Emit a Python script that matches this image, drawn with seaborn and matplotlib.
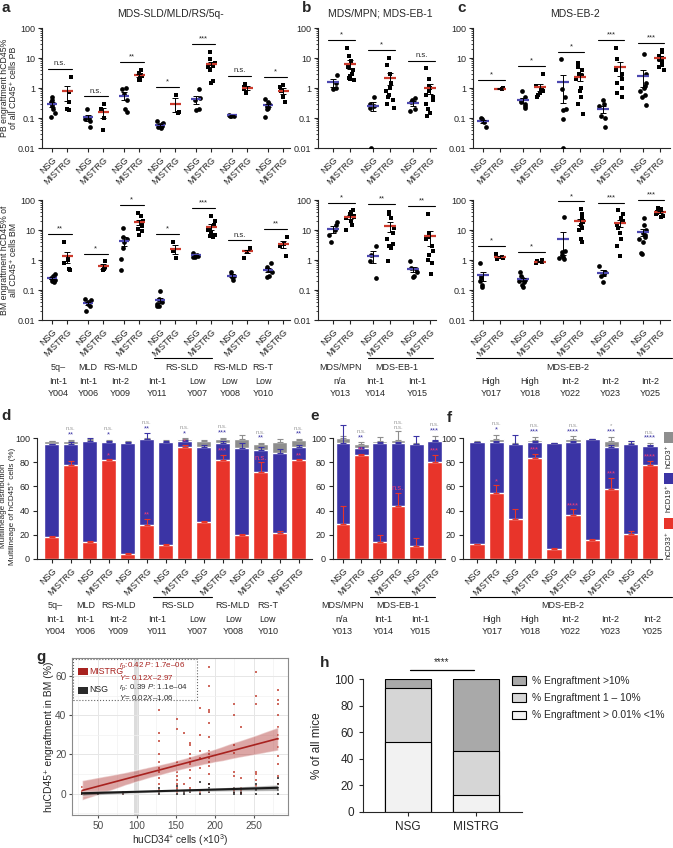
import numpy as np
import pandas as pd
import matplotlib
matplotlib.use('Agg')
import matplotlib.pyplot as plt
import seaborn as sns
from matplotlib.lines import Line2D
from matplotlib.patches import Patch, Rectangle
from matplotlib.collections import PolyCollection

# ---------------- data: panels a-c (hCD45% engraftment, one list per patient) ----------------
a_pb_nsg = [[0.5, 0.4, 0.35, 0.3, 0.25, 0.2, 0.15, 0.11], [0.2, 0.1, 0.09, 0.08, 0.05],
            [1.0, 0.95, 0.65, 0.4, 0.2, 0.16], [0.08, 0.07, 0.065, 0.06, 0.055, 0.05, 0.045],
            [0.9, 0.45, 0.4, 0.2, 0.18], [0.13, 0.12, 0.12, 0.115], [0.42, 0.35, 0.3, 0.28, 0.25, 0.22, 0.2, 0.11]]
a_pb_mis = [[2.4, 0.75, 0.35, 0.2, 0.18], [0.3, 0.2, 0.1, 0.04], [4.0, 3.2, 2.8, 2.5, 2.2, 1.9, 1.8],
            [0.6, 0.16, 0.15], [16, 9, 7, 6.5, 6, 5.5, 5, 4, 1.7, 1.5], [1.4, 1.1, 0.9, 0.7],
            [1.3, 1.1, 0.8, 0.5, 0.35]]
a_pb_sig = ['n.s.', 'n.s.', '**', '*', '***', 'n.s.', '*']
a_bm_nsg = [[0.35, 0.3, 0.28, 0.25, 0.22, 0.2, 0.18], [0.05, 0.045, 0.04, 0.035, 0.03, 0.02],
            [12, 6, 5, 4, 2.5, 1.1, 0.48], [0.09, 0.05, 0.045, 0.04, 0.035, 0.03, 0.03],
            [1.7, 1.5, 1.4, 1.3, 1.25], [0.4, 0.3, 0.28, 0.22], [0.8, 0.6, 0.5, 0.45, 0.4, 0.3, 0.28]]
a_bm_mis = [[4.0, 1.2, 1.0, 0.8, 0.5, 0.45], [0.9, 0.6, 0.5, 0.45], [38, 30, 20, 16, 14, 11, 9, 7],
            [4, 2, 1.2], [30, 20, 15, 12, 10, 8, 7, 6.5, 6], [2.5, 2.2, 1.9, 1.2], [6, 3.5, 3, 1.4]]
a_bm_sig = ['**', '*', '*', '*', '***', 'n.s.', '**']

b_pb_nsg = [[2.8, 1.5, 1.0, 0.9], [0.5, 0.3, 0.25, 0.22, 0.01], [0.45, 0.4, 0.35, 0.2, 0.17]]
b_pb_mis = [[22, 12, 8, 5, 4, 3, 2.5, 2.2, 2, 1.8], [10, 6, 3, 1.5, 1, 0.8, 0.6, 0.5, 0.4, 0.3, 0.22],
            [4.5, 2, 1.2, 1, 0.8, 0.6, 0.5, 0.4, 0.3, 0.2, 0.15, 0.12]]
b_pb_sig = ['*', '*', 'n.s.']
b_bm_nsg = [[18, 15, 10, 7, 4], [3, 1.5, 0.9, 0.25], [0.9, 0.55, 0.5, 0.4, 0.3, 0.28]]
b_bm_mis = [[45, 40, 35, 30, 28, 25, 20, 15, 10], [40, 35, 25, 12, 8, 5, 3.5, 3, 2.5, 0.9],
            [35, 8, 6, 5, 3, 2, 1.5, 1, 0.8, 0.35]]
b_bm_sig = ['*', '**', '**']

c_pb_nsg = [[0.1, 0.09, 0.08, 0.075, 0.05], [0.8, 0.5, 0.4, 0.35, 0.3, 0.25, 0.22],
            [9, 0.9, 0.5, 0.2, 0.18, 0.09, 0.01], [0.4, 0.3, 0.25, 0.12, 0.1, 0.05],
            [14, 3, 1.5, 1.2, 1, 0.8, 0.6, 0.5, 0.27]]
c_pb_mis = [[1.0, 0.95, 0.9], [3, 1.2, 1, 0.9, 0.8, 0.7, 0.6, 0.5], [7, 5, 4, 3, 2.5, 2, 1, 0.8, 0.5, 0.3, 0.14],
            [22, 9, 4, 3, 2, 1.5, 1, 0.7, 0.5], [18, 16, 12, 10, 9, 8, 6, 5, 4]]
c_pb_sig = ['*', '*', '*', '***', '***']
c_bm_nsg = [[0.8, 0.3, 0.25, 0.2, 0.15, 0.13], [0.4, 0.3, 0.25, 0.22, 0.2, 0.18, 0.15, 0.13],
            [27, 2, 1.8, 1.5, 1.3, 1.2, 1.1], [0.65, 0.4, 0.35, 0.3, 0.18],
            [25, 15, 10, 8, 7, 6, 5, 4, 1.7, 1.6]]
c_bm_mis = [[1.6, 1.3, 1.2, 1.1], [1.0, 0.9, 0.85, 0.8], [50, 35, 25, 20, 18, 15, 12, 10, 5, 4],
            [45, 35, 25, 20, 15, 12, 8, 5, 3, 1.4], [55, 50, 45, 40, 38, 35, 30, 28]]
c_bm_sig = ['*', '*', '*', '***', '***']

# patient annotation rows
a_diag = ['5q\u2013', 'MLD', 'RS-MLD', 'RS-SLD', 'RS-MLD', 'RS-T']
a_risk = ['Int-1', 'Int-1', 'Int-2', 'Int-1', 'Low', 'Low', 'Low']
a_ids = ['Y004', 'Y006', 'Y009', 'Y011', 'Y007', 'Y008', 'Y010']
b_diag = ['MDS/MPN', 'MDS-EB-1']
b_risk = ['n/a', 'Int-1', 'Int-1']
b_ids = ['Y013', 'Y014', 'Y015']
c_diag = ['MDS-EB-2']
c_risk = ['High', 'High', 'Int-2', 'Int-2', 'Int-2']
c_ids = ['Y017', 'Y018', 'Y022', 'Y023', 'Y025']

# ---------------- data: panels d-f (multilineage %, NSG / MISTRG alternating) ----------------
d_red = [18, 78, 14, 82, 4, 28, 11.5, 93, 31, 82, 20, 72, 21.5, 81.5]
d_blue = [95, 95.5, 98, 97, 96, 99, 96.5, 98, 93, 96, 92, 90, 88, 93]
d_grey = [97.5, 97.5, 98.5, 97.8, 97, 99.5, 97, 99, 97.5, 99, 99.5, 95, 97, 98.5]
d_red_se = [0.8, 3, 0.8, 0.5, 0.7, 5, 0.8, 1, 0.7, 4, 0.8, 8, 1.5, 1]
d_blue_se = [0.5, 1, 2, 0.8, 0.7, 5, 1.5, 0.5, 1, 1.5, 4, 3, 3, 1]
d_grey_se = [0.5, 1.2, 0.5, 0.7, 0.5, 0.5, 1.5, 1, 1, 1.5, 3.5, 1, 2, 0.8]
d_notes = [(1, 'n.s.', '**', ''), (3, 'n.s.', '*', '*'), (5, 'n.s.', '**', '**'), (7, 'n.s.', '*', '*'),
           (9, 'n.s.', '***', '***'), (11, 'n.s.', '**', 'n.s.'), (13, 'n.s.', '**', '**')]

e_red = [29, 86, 14, 44, 11, 80]
e_blue = [96, 92, 96, 96, 95.5, 97.5]
e_grey = [100, 95.5, 98, 98.5, 95.5, 98]
e_red_se = [15, 1, 6, 11, 6, 6]
e_blue_se = [15, 1, 1, 1, 6, 1]
e_grey_se = [2, 1, 3, 7, 0.3, 4]
e_notes = [(1, 'n.s.', '**', '**'), (3, 'n.s.\nn.s.', '', 'n.s.'), (5, 'n.s.', '***', '***')]

f_red = [12, 55, 33, 83.5, 8, 36, 15.5, 58, 20.5, 78]
f_blue = [96.5, 97, 95, 97, 96, 96.5, 99, 93, 95.5, 93.5]
f_grey = [97, 99.5, 95.5, 98.5, 96, 99, 99, 97.5, 96, 94.5]
f_red_se = [0.8, 6, 8, 3.5, 0.8, 5, 0.8, 9, 2.5, 3]
f_blue_se = [0.5, 1, 8, 1, 0.3, 1, 0.3, 1, 2, 1]
f_grey_se = [0.5, 3.5, 0.5, 2.5, 0.3, 2.5, 0.3, 3.5, 2, 1.5]
f_notes = [(1, 'n.s.', '*', '*'), (3, 'n.s.', '***', '***'), (5, 'n.s.', '****', '****'),
           (7, '*', '***', '***'), (9, 'n.s.', '****', '****')]

# ---------------- data: panel g (BM engraftment vs injected CD34+ dose) ----------------
g_dose = [30, 50, 83, 128, 152, 160, 168, 181, 193, 225, 234, 253, 281]
g_mis = [[3.5, 1, 0.5, 0, 0, 0], [0.5, 0, 0], [1, 0.5, 0, 0], [43, 31, 27, 20, 16, 13, 11, 8, 5, 2, 0.5],
         [38, 33, 16, 11, 9, 7, 5, 3, 1], [31, 5, 1], [26, 25, 20, 18, 16, 15, 12, 8, 3, 1],
         [44, 30, 22, 18, 13, 1], [65, 55, 43, 42, 36, 29, 22, 20, 18, 16, 14, 10, 5, 1],
         [46, 40, 25, 21, 11, 9, 3, 2, 1], [34, 8, 3, 2, 1, 0.5], [62, 50, 46, 11, 10, 7, 4],
         [53, 48, 46, 40, 34, 30, 28, 24, 19, 15, 9, 5]]
g_nsg = [[0, 0.5], [0], [0, 1], [0, 1, 3], [0, 2, 4], [0, 1], [1, 2], [0, 6], [1, 3, 5],
         [0, 1, 3], [0, 1], [0, 2, 5], [0, 2, 5, 8]]

# ---------------- data: panel h (% of mice per engraftment class) ----------------
h_groups = ['NSG', 'MISTRG']
h_low = [53, 13]
h_mid = [40, 33]
h_high = [7, 54]
h_labels = ['% Engraftment >10%', '% Engraftment 1 \u2013 10%', '% Engraftment > 0.01% <1%']

# ---------------- style ----------------
sns.set_style('ticks')
plt.rcParams['font.family'] = ['Liberation Sans', 'DejaVu Sans']
plt.rcParams['mathtext.fontset'] = 'custom'
plt.rcParams['mathtext.rm'] = 'Liberation Sans'
plt.rcParams['mathtext.it'] = 'Liberation Sans:italic'
plt.rcParams['axes.linewidth'] = 0.8
plt.rcParams['xtick.major.width'] = 0.8
plt.rcParams['ytick.major.width'] = 0.8
plt.rcParams['xtick.major.size'] = 3
plt.rcParams['ytick.major.size'] = 3

BLUE = '#3b34a5'
RED = '#e8342a'
GREY = '#8e8e8e'
MEAN_BLUE = '#4c48b0'
MEAN_RED = '#cc3a2c'
PINK = '#f03c78'
G_RED = '#a8221f'
OFF = 0.42
W, H = 673, 848

fig = plt.figure(figsize=(W / 100, H / 100), dpi=100)


def pxbox(l, t, r, b):
    return [l / W, 1 - b / H, (r - l) / W, (b - t) / H]


def fy(ypx):
    return 1 - ypx / H


def ftext(x, y, s, **kw):
    fig.text(x / W, fy(y), s, **kw)


def fline(x0, x1, y):
    fig.add_artist(Line2D([x0 / W, x1 / W], [fy(y), fy(y)], color='k', lw=0.8))


def dot_panel(ax, nsg, mis, sig, xlim):
    rows = []
    for p, (vn, vm) in enumerate(zip(nsg, mis)):
        rows += [(p, v, 'NSG') for v in vn]
        rows += [(p + OFF, v, 'MISTRG') for v in vm]
    df = pd.DataFrame(rows, columns=['pos', 'val', 'mouse'])
    for grp, mk, col in [('NSG', 'o', MEAN_BLUE), ('MISTRG', 's', MEAN_RED)]:
        sub = df[df['mouse'] == grp]
        sns.stripplot(data=sub, x='pos', y='val', native_scale=True, jitter=0.1, marker=mk,
                      color='k', size=3.4, linewidth=0, ax=ax, zorder=3)
        st = sub.groupby('pos')['val'].agg(['mean', 'sem'])
        ax.hlines(st['mean'], st.index - 0.15, st.index + 0.15, color=col, lw=1.6, zorder=4)
        low = np.minimum(st['sem'], st['mean'] * 0.9)
        ax.errorbar(st.index, st['mean'], yerr=[low, st['sem']], fmt='none', ecolor='k',
                    elinewidth=0.7, capsize=2, capthick=0.7, zorder=5)
    for p, s in enumerate(sig):
        top = max(max(nsg[p]), max(mis[p])) * 1.8
        ax.plot([p - 0.12, p + OFF + 0.12], [top, top], color='k', lw=0.8, clip_on=False)
        ax.text(p + OFF / 2, top * 1.12, s, ha='center', va='bottom', fontsize=5.5)
    ax.set_yscale('log')
    ax.set_ylim(0.01, 100)
    ax.set_yticks([0.01, 0.1, 1, 10, 100], ['0.01', '0.1', '1', '10', '100'])
    ax.set_xlim(*xlim)
    ax.set_xticks(sorted(df['pos'].unique()), ['NSG', 'MISTRG'] * len(sig), rotation=45,
                  ha='right', rotation_mode='anchor')
    ax.tick_params(labelsize=6.5, pad=2)
    ax.tick_params(which='minor', length=1.5, width=0.6)
    ax.set_xlabel('')
    ax.set_ylabel('')
    sns.despine(ax=ax)


def bar_panel(ax, red, blue, grey, red_se, blue_se, grey_se, notes, xlim):
    pos = np.arange(len(red))
    for top, se, col in [(grey, grey_se, GREY), (blue, blue_se, BLUE), (red, red_se, RED)]:
        sns.barplot(x=pos, y=top, native_scale=True, color=col, width=0.8, saturation=1,
                    errorbar=None, ax=ax)
        ax.errorbar(pos, top, yerr=[np.zeros(len(pos)), se], fmt='none', ecolor=col,
                    elinewidth=0.8, capsize=2.2, capthick=0.8)
    for i, g_lbl, b_lbl, r_lbl in notes:
        y = max(grey[i] + grey_se[i], blue[i] + blue_se[i]) + 1
        if b_lbl:
            ax.text(i, y, b_lbl, color=BLUE, fontsize=5.5, ha='center', va='bottom')
            y += 6
        ax.text(i, y, g_lbl, color='#9a9a9a', fontsize=4.3, ha='center', va='bottom', linespacing=1.1)
        ax.text(i, red[i] + red_se[i] + 0.3, r_lbl, color=PINK, fontsize=5.5, ha='center', va='bottom')
    ax.set_ylim(0, 115)
    ax.set_xlim(*xlim)
    ax.set_yticks(np.arange(0, 101, 20))
    ax.set_xticks(pos, ['NSG', 'MISTRG'] * (len(pos) // 2), rotation=45, ha='right',
                  rotation_mode='anchor')
    ax.tick_params(labelsize=6.5, pad=2)
    ax.set_xlabel('')
    ax.set_ylabel('')
    sns.despine(ax=ax)
    ax.spines['left'].set_bounds(0, 100)


# ---------------- panels a-c ----------------
top_row = (28, 148)
bot_row = (200, 320)
cols = [(42, 290, (-0.28, 6.61)), (318, 436, (-0.375, 2.575)), (473, 670, (-0.25, 4.68))]
pb_data = [(a_pb_nsg, a_pb_mis, a_pb_sig), (b_pb_nsg, b_pb_mis, b_pb_sig), (c_pb_nsg, c_pb_mis, c_pb_sig)]
bm_data = [(a_bm_nsg, a_bm_mis, a_bm_sig), (b_bm_nsg, b_bm_mis, b_bm_sig), (c_bm_nsg, c_bm_mis, c_bm_sig)]
for (l, r, xl), pb, bm in zip(cols, pb_data, bm_data):
    ax = fig.add_axes(pxbox(l, top_row[0], r, top_row[1]))
    dot_panel(ax, *pb, xl)
    ax = fig.add_axes(pxbox(l, bot_row[0], r, bot_row[1]))
    dot_panel(ax, *bm, xl)

ftext(9, 88, 'PB engraftment hCD45%\nof all CD45\u207a cells PB', rotation=90, ha='center', va='center',
      fontsize=6.3, linespacing=1.1)
ftext(9, 260, 'BM engraftment hCD45% of\nall CD45\u207a cells BM', rotation=90, ha='center', va='center',
      fontsize=6.3, linespacing=1.1)
ftext(170, 14, 'MDS-SLD/MLD/RS/5q-', ha='center', va='center', fontsize=7.5)
ftext(380, 14, 'MDS/MPN; MDS-EB-1', ha='center', va='center', fontsize=7.5)
ftext(575, 14, 'MDS-EB-2', ha='center', va='center', fontsize=7.5)


# patient annotation tables (layout in pixels)
def patient_rows(diag, diag_x, risk, ids, row_x, ys):
    for s, x in zip(diag, diag_x):
        ftext(x, ys[0], s, ha='center', va='center', fontsize=6.5)
    for s, x in zip(risk, row_x):
        ftext(x, ys[1], s, ha='center', va='center', fontsize=6.5)
    for s, x in zip(ids, row_x):
        ftext(x, ys[2], s, ha='center', va='center', fontsize=6.5)


patient_rows(a_diag, [58, 88, 120, 182, 230, 263], a_risk, a_ids, [58, 88, 120, 157, 197, 230, 263], (368, 382, 394))
patient_rows(b_diag, [340, 397], b_risk, b_ids, [340, 375, 417], (368, 382, 394))
patient_rows(c_diag, [568], c_risk, c_ids, [491, 530, 570, 610, 650], (368, 382, 394))
fline(154, 212, 358)
fline(368, 433, 358)
fline(476, 672, 358)

patient_rows(a_diag, [55, 86, 119, 178, 232, 268], a_risk, a_ids, [55, 85, 118, 157, 197, 233, 268], (605, 619, 632))
patient_rows(b_diag, [342, 398], b_risk, b_ids, [342, 383, 420], (605, 619, 632))
patient_rows(c_diag, [563], c_risk, c_ids, [492, 530, 570, 610, 652], (605, 619, 632))
fline(153, 212, 597)
fline(370, 435, 597)
fline(470, 672, 597)

# ---------------- panels d-f ----------------
ax = fig.add_axes(pxbox(37, 420, 312, 559))
bar_panel(ax, d_red, d_blue, d_grey, d_red_se, d_blue_se, d_grey_se, d_notes, (-0.78, 13.7))
ax = fig.add_axes(pxbox(333, 420, 445, 559))
bar_panel(ax, e_red, e_blue, e_grey, e_red_se, e_blue_se, e_grey_se, e_notes, (-0.55, 5.57))
ax = fig.add_axes(pxbox(463, 420, 662, 559))
bar_panel(ax, f_red, f_blue, f_grey, f_red_se, f_blue_se, f_grey_se, f_notes, (-0.73, 9.63))
ftext(8, 506, 'Multilineage distribution\nMultilineage of hCD45\u207a cells (%)', rotation=90,
      ha='center', va='center', fontsize=5.9, linespacing=1.1)

for (y0, y1), col, lbl, ty in [((432, 443), GREY, 'hCD3\u207a', 456), ((473, 484), BLUE, 'hCD19\u207a', 498),
                                 ((518, 529), RED, 'hCD33\u207a', 545)]:
    fig.add_artist(Rectangle((664 / W, fy(y1)), 9 / W, (y1 - y0) / H, color=col, lw=0))
    ftext(669, ty, lbl, rotation=90, ha='center', va='center', fontsize=5.5)

# ---------------- panel g ----------------
ax = fig.add_axes(pxbox(72, 658, 288, 815))
ax.axvspan(97, 103, color='#dcdcdc', lw=0, zorder=0)
mis_x = np.repeat(g_dose, [len(v) for v in g_mis])
mis_y = np.concatenate(g_mis)
nsg_x = np.repeat(g_dose, [len(v) for v in g_nsg])
nsg_y = np.concatenate(g_nsg)
sns.regplot(x=mis_x, y=mis_y, ax=ax, color=G_RED, marker='s', seed=1,
            scatter_kws={'s': 4, 'alpha': 0.75, 'linewidths': 0, 'color': '#c0392b'},
            line_kws={'lw': 1.2})
sns.regplot(x=nsg_x, y=nsg_y, ax=ax, color='#1a1a1a', marker='s', seed=1,
            scatter_kws={'s': 4, 'alpha': 0.75, 'linewidths': 0},
            line_kws={'lw': 1.5})
for coll in ax.collections:
    if isinstance(coll, PolyCollection):
        coll.set_alpha(0.4)
ax.set_xlim(17, 294)
ax.set_ylim(-11, 69.4)
ax.set_xticks([50, 100, 150, 200, 250])
ax.set_yticks([0, 20, 40, 60])
ax.set_xticks([25, 75, 125, 175, 225, 275], minor=True)
ax.set_yticks([-10, 10, 30, 50], minor=True)
ax.set_axisbelow(True)
ax.grid(True, which='major', color='#e6e6e6', lw=0.7)
ax.grid(True, which='minor', color='#f2f2f2', lw=0.5)
ax.tick_params(which='minor', length=0)
ax.tick_params(labelsize=7.3, colors='#4d4d4d', length=2.5, pad=1.5)
for sp in ax.spines.values():
    sp.set_color('#8a8a8a')
ax.set_xlabel('huCD34$^{+}$ cells (\u00d710$^3$)', fontsize=7.2, labelpad=1)
ax.set_ylabel('huCD45\u207a engraftment in BM (%)', fontsize=7.5, labelpad=1)

fig.add_artist(Rectangle((73 / W, fy(700)), 124 / W, 41 / H, fill=False, ls=':', lw=0.8, ec='#666666'))
fig.add_artist(Rectangle((78 / W, fy(675)), 10 / W, 7 / H, color=G_RED, lw=0))
fig.add_artist(Rectangle((78 / W, fy(694)), 10 / W, 7 / H, color='#2a2a2a', lw=0))
ftext(89, 671, 'MISTRG', color=G_RED, fontsize=6.3, va='center')
ftext(89, 690, 'NSG', color='#222222', fontsize=6.3, va='center')
ftext(119, 666, '$r_\\mathrm{p}$:0.42 $P$: 1.7e\u201306', color=G_RED, fontsize=5.8, va='center')
ftext(119, 677, '$Y$= 0.12$X$\u20132.97', color=G_RED, fontsize=5.8, va='center')
ftext(119, 688, '$r_\\mathrm{p}$: 0.39 $P$: 1.1e\u201304', color='#333333', fontsize=5.8, va='center')
ftext(119, 698, '$Y$= 0.02$X$\u20131.06', color='#333333', fontsize=5.8, va='center')

# ---------------- panel h ----------------
ax = fig.add_axes(pxbox(363, 679, 522, 812))
h_mid_top = [l + m for l, m in zip(h_low, h_mid)]
h_total = [t + h for t, h in zip(h_mid_top, h_high)]
for vals, col in [(h_total, '#a9a9a9'), (h_mid_top, '#d6d6d6'), (h_low, '#f2f2f2')]:
    sns.barplot(x=h_groups, y=vals, color=col, width=0.68, saturation=1, edgecolor='k',
                linewidth=0.8, errorbar=None, ax=ax)
ax.plot([0.03, 0.97], [107, 107], color='k', lw=0.9, clip_on=False)
ax.text(0.5, 109, '****', ha='center', va='bottom', fontsize=7)
ax.set_xlim(-0.66, 1.68)
ax.set_ylim(0, 100)
ax.set_yticks(np.arange(0, 101, 20))
ax.tick_params(labelsize=8.5)
ax.set_xlabel('')
ax.set_ylabel('% of all mice', fontsize=8.5, labelpad=8)
sns.despine(ax=ax)
handles = [Patch(facecolor=c, edgecolor='k', lw=0.8) for c in ['#a9a9a9', '#d6d6d6', '#f2f2f2']]
fig.legend(handles, h_labels, loc='upper left', bbox_to_anchor=(512 / W, fy(676)), frameon=False,
           fontsize=7.4, handlelength=1.4, handleheight=0.9, labelspacing=0.7, handletextpad=0.5,
           borderaxespad=0, borderpad=0)

# ---------------- panel letters ----------------
for s, x, y in [('a', 1, 1), ('b', 302, 1), ('c', 457, 1), ('d', 1, 409), ('e', 310, 409),
                ('f', 447, 411), ('g', 36, 650), ('h', 320, 656)]:
    ftext(x, y, s, fontsize=11, fontweight='bold', ha='left', va='top')

fig.savefig('out.png', dpi=100)
